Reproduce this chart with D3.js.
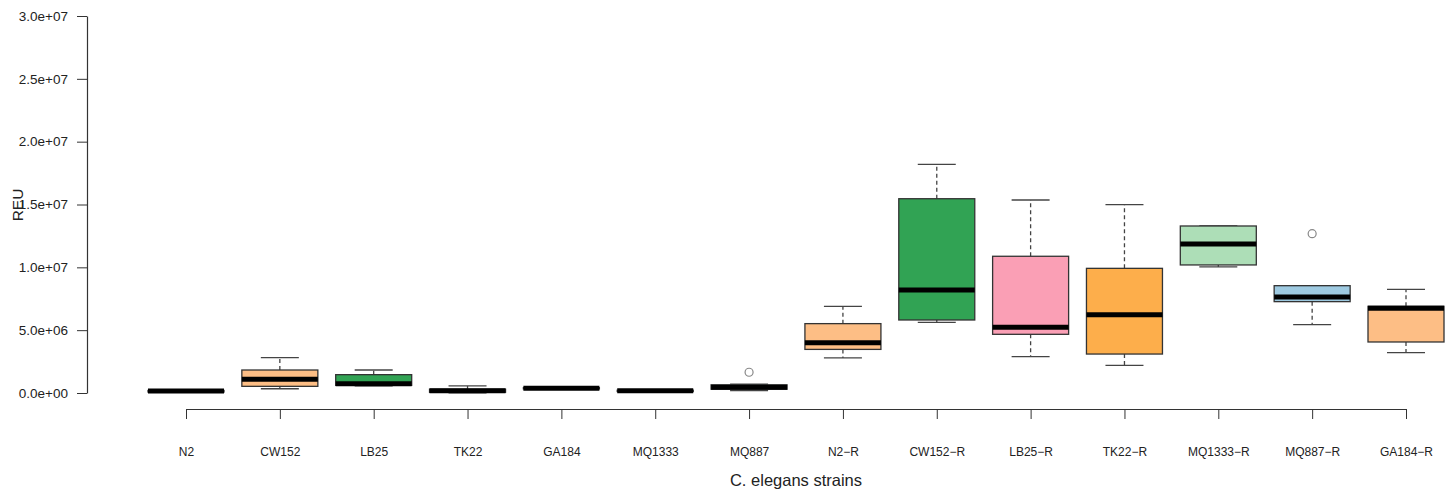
<!DOCTYPE html>
<html>
<head>
<meta charset="utf-8">
<script src="https://cdn.jsdelivr.net/npm/d3@7"></script>
<style>
  body { margin: 0; background: #fff; }
  svg { display: block; font-family: "Liberation Sans", Arial, sans-serif; }
</style>
</head>
<body>
<svg id="chart" width="1451" height="491"></svg>
<script>
const categories = ["N2","CW152","LB25","TK22","GA184","MQ1333","MQ887","N2\u2212R","CW152\u2212R","LB25\u2212R","TK22\u2212R","MQ1333\u2212R","MQ887\u2212R","GA184\u2212R"];
const mins    = [0.05e6, 0.34e6, 0.56e6, 0.02e6, 0.30e6, 0.10e6, 0.20e6, 2.79e6, 5.62e6, 2.89e6, 2.20e6, 10.03e6, 5.44e6, 3.21e6];
const q1s     = [0.08e6, 0.53e6, 0.61e6, 0.06e6, 0.33e6, 0.12e6, 0.30e6, 3.47e6, 5.81e6, 4.67e6, 3.10e6, 10.19e6, 7.27e6, 4.06e6];
const medians = [0.15e6, 1.09e6, 0.74e6, 0.18e6, 0.38e6, 0.18e6, 0.45e6, 4.00e6, 8.20e6, 5.23e6, 6.23e6, 11.86e6, 7.64e6, 6.74e6];
const q3s     = [0.20e6, 1.83e6, 1.46e6, 0.30e6, 0.42e6, 0.22e6, 0.65e6, 5.52e6, 15.46e6, 10.88e6, 9.92e6, 13.29e6, 8.54e6, 6.90e6];
const maxs    = [0.25e6, 2.81e6, 1.83e6, 0.56e6, 0.45e6, 0.25e6, 0.70e6, 6.90e6, 18.20e6, 15.36e6, 14.99e6, 13.29e6, 8.54e6, 8.25e6];
const outliers = [[], [], [], [], [], [], [1.65e6], [], [], [], [], [], [12.68e6], []];
const yTicks = [0, 5e6, 1e7, 1.5e7, 2e7, 2.5e7, 3e7];
const palette = ["#FDBE85","#FDBE85","#31A354","#FA9FB5","#FDAE4B","#ADDEB7","#9ECAE1","#FDBE85","#31A354","#FA9FB5","#FDAE4B","#ADDEB7","#9ECAE1","#FDBE85"];

const svg = d3.select("#chart");
const y = d3.scaleLinear().domain([0, 3e7]).range([393, 16]);
const x = d3.scalePoint().domain(categories).range([186, 1406]);
const boxW = 76, capW = 38;

// Y axis
const fmt = v => {
  if (v === 0) return "0.0e+00";
  const e = Math.floor(Math.log10(v));
  const m = v / Math.pow(10, e);
  return m.toFixed(1) + "e+" + String(e).padStart(2, "0");
};
const yAxis = d3.axisLeft(y).tickValues(yTicks).tickFormat(fmt).tickSize(10).tickSizeOuter(0).tickPadding(9);
const gy = svg.append("g").attr("transform", "translate(87,0)").call(yAxis);
gy.select(".domain").attr("stroke", "#333").attr("stroke-width", 1.2);
gy.selectAll(".tick line").attr("stroke", "#333");
gy.selectAll(".tick text").attr("font-size", 13.5).attr("fill", "#222").attr("font-family", "Liberation Sans, Arial, sans-serif");

// X axis
const xAxis = d3.axisBottom(x).tickSize(10).tickSizeOuter(0).tickPadding(28);
const gx = svg.append("g").attr("transform", "translate(0,409)").call(xAxis);
gx.select(".domain").attr("stroke", "#333").attr("stroke-width", 1.2);
gx.selectAll(".tick line").attr("stroke", "#333");
gx.selectAll(".tick text").attr("font-size", 12).attr("fill", "#222").attr("font-family", "Liberation Sans, Arial, sans-serif");

// Axis titles
svg.append("text").attr("x", 796).attr("y", 486).attr("text-anchor", "middle")
  .attr("font-size", 16.5).attr("fill", "#222").text("C. elegans strains");
svg.append("text").attr("transform", "translate(23,205) rotate(-90)").attr("text-anchor", "middle")
  .attr("font-size", 15.5).attr("fill", "#222").text("REU");

// Boxes
const data = categories.map((c, i) => ({c, i, min: mins[i], q1: q1s[i], med: medians[i], q3: q3s[i], max: maxs[i], out: outliers[i]}));
const g = svg.append("g");
const bx = g.selectAll("g.box").data(data).join("g").attr("class", "box");

// whiskers (dashed)
bx.append("line").attr("x1", d => x(d.c)).attr("x2", d => x(d.c))
  .attr("y1", d => y(d.q3)).attr("y2", d => y(d.max))
  .attr("stroke", "#444").attr("stroke-width", 1.3).attr("stroke-dasharray", "4,3");
bx.append("line").attr("x1", d => x(d.c)).attr("x2", d => x(d.c))
  .attr("y1", d => y(d.q1)).attr("y2", d => y(d.min))
  .attr("stroke", "#444").attr("stroke-width", 1.3).attr("stroke-dasharray", "4,3");
// caps
bx.append("line").attr("x1", d => x(d.c) - capW / 2).attr("x2", d => x(d.c) + capW / 2)
  .attr("y1", d => y(d.max)).attr("y2", d => y(d.max)).attr("stroke", "#444").attr("stroke-width", 1.3);
bx.append("line").attr("x1", d => x(d.c) - capW / 2).attr("x2", d => x(d.c) + capW / 2)
  .attr("y1", d => y(d.min)).attr("y2", d => y(d.min)).attr("stroke", "#444").attr("stroke-width", 1.3);
// box
bx.append("rect").attr("x", d => x(d.c) - boxW / 2).attr("width", boxW)
  .attr("y", d => y(d.q3)).attr("height", d => Math.max(0, y(d.q1) - y(d.q3)))
  .attr("fill", d => palette[d.i]).attr("stroke", "#333").attr("stroke-width", 1.3);
// median
bx.append("line").attr("x1", d => x(d.c) - boxW / 2).attr("x2", d => x(d.c) + boxW / 2)
  .attr("y1", d => y(d.med)).attr("y2", d => y(d.med)).attr("stroke", "#000").attr("stroke-width", 5);
// outliers
bx.selectAll("circle").data(d => d.out.map(v => ({c: d.c, v}))).join("circle")
  .attr("cx", d => x(d.c)).attr("cy", d => y(d.v)).attr("r", 4)
  .attr("fill", "none").attr("stroke", "#888").attr("stroke-width", 1.2);
</script>
</body>
</html>
